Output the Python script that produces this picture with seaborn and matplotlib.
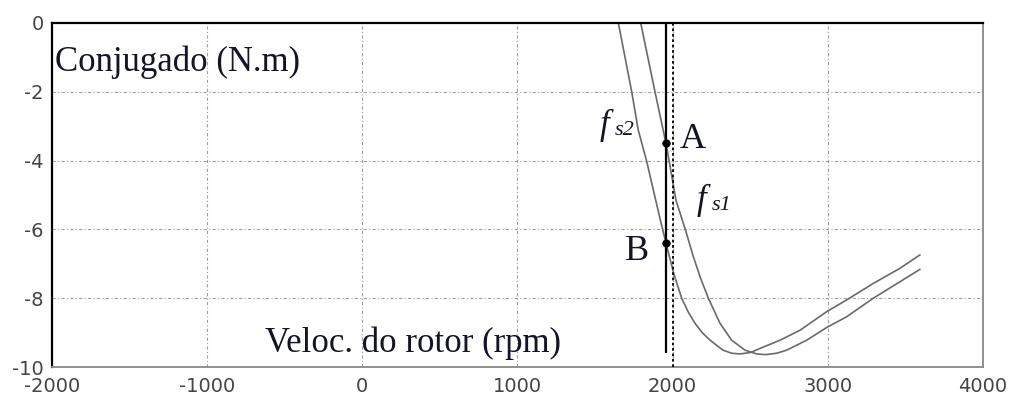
import numpy as np
import pandas as pd
import matplotlib.pyplot as plt
import seaborn as sns

# ---------------------------------------------------------
# Dados (rpm, N.m)
# ---------------------------------------------------------
rpm_fs2 = [1650, 1736, 1778, 1833, 1875, 1915, 1957, 2008, 2058, 2100, 2144, 2190, 2241,
           2324, 2380, 2434, 2500, 2563, 2692, 2821, 2993, 3121, 3293, 3465, 3594]
torque_fs2 = [0.0, -2.0, -3.11, -4.03, -4.85, -5.62, -6.40, -7.30, -8.0, -8.40, -8.73,
              -9.0, -9.22, -9.51, -9.60, -9.62, -9.58, -9.46, -9.22, -8.93, -8.39, -8.05,
              -7.57, -7.13, -6.74]

rpm_fs1 = [1794, 1886, 1957, 1978, 2021, 2086, 2133, 2180, 2230, 2305, 2380, 2466,
           2542, 2600, 2670, 2735, 2864, 2993, 3121, 3293, 3465, 3594]
torque_fs1 = [0.0, -2.0, -3.50, -4.03, -5.15, -6.07, -6.79, -7.42, -8.0, -8.73, -9.22,
              -9.51, -9.62, -9.64, -9.60, -9.51, -9.22, -8.85, -8.54, -8.0, -7.52, -7.16]

rpm_op = 1957          # linha vertical (velocidade de operação)
torque_op_min = -9.6
rpm_sinc = 2000        # linha pontilhada

pontos_nome = ['A', 'B']
pontos_rpm = [1957, 1957]
pontos_torque = [-3.5, -6.4]

xticks = [-2000, -1000, 0, 1000, 2000, 3000, 4000]
yticks = [0, -2, -4, -6, -8, -10]

df = pd.concat([
    pd.DataFrame({'rpm': rpm_fs2, 'torque': torque_fs2, 'curva': 'fs2'}),
    pd.DataFrame({'rpm': rpm_fs1, 'torque': torque_fs1, 'curva': 'fs1'}),
])
df_pts = pd.DataFrame({'rpm': pontos_rpm, 'torque': pontos_torque, 'nome': pontos_nome})

# ---------------------------------------------------------
# Estilo
# ---------------------------------------------------------
sns.set_style('white')
plt.rcParams['font.family'] = ['DejaVu Sans']
plt.rcParams['axes.unicode_minus'] = False

fig = plt.figure(figsize=(10.15, 3.96), dpi=100)
ax = fig.add_axes([0.0512, 0.0732, 0.9173, 0.8688])

# grade traço-ponto
for x in xticks[1:-1]:
    ax.axvline(x, color='#a0a0a0', lw=0.8, ls=(0, (3, 2, 1, 2)), zorder=0)
for y in yticks[1:-1]:
    ax.axhline(y, color='#a0a0a0', lw=0.8, ls=(0, (3, 2, 1, 2)), zorder=0)

sns.lineplot(data=df, x='rpm', y='torque', units='curva', estimator=None,
             sort=False, color='#6a6a6a', lw=1.2, ax=ax, legend=False)

ax.vlines(rpm_op, torque_op_min, 0, color='black', lw=1.6, zorder=3)
ax.axvline(rpm_sinc, color='black', lw=1.3, ls=(0, (1.5, 1.5)), zorder=3)

sns.scatterplot(data=df_pts, x='rpm', y='torque', color='black', s=30,
                edgecolor='black', zorder=4, ax=ax, legend=False)

# ---------------------------------------------------------
# Textos
# ---------------------------------------------------------
serif = ['Liberation Serif', 'DejaVu Serif']
cor_txt = '#141428'
ax.text(-1981, -1.4, 'Conjugado (N.m)', family=serif, fontsize=25, color=cor_txt,
        ha='left', va='baseline')
ax.text(-627, -9.56, 'Veloc. do rotor (rpm)', family=serif, fontsize=25, color=cor_txt,
        ha='left', va='baseline')

# f_s2 e f_s1 (itálico, subscrito)
ax.text(1532, -3.23, 'f', family=serif, style='italic', fontsize=25, color=cor_txt,
        ha='left', va='baseline')
ax.text(1625, -3.27, 's2', family=serif, style='italic', fontsize=16, color=cor_txt,
        ha='left', va='baseline')
ax.text(2157, -5.41, 'f', family=serif, style='italic', fontsize=25, color=cor_txt,
        ha='left', va='baseline')
ax.text(2250, -5.45, 's1', family=serif, style='italic', fontsize=16, color=cor_txt,
        ha='left', va='baseline')

ax.text(2047, -3.63, 'A', family=serif, fontsize=26, color=cor_txt, ha='left', va='baseline')
ax.text(1693, -6.89, 'B', family=serif, fontsize=26, color=cor_txt, ha='left', va='baseline')

# ---------------------------------------------------------
# Eixos
# ---------------------------------------------------------
ax.set_xlim(-2000, 4000)
ax.set_ylim(-10, 0)
ax.set_xticks(xticks)
ax.set_yticks(yticks)
ax.set_xlabel('')
ax.set_ylabel('')
ax.tick_params(direction='in', length=5, width=1, labelsize=14,
               labelcolor='#444444', color='#555555')
ax.tick_params(axis='x', pad=7)
ax.tick_params(axis='y', pad=6)

for s in ['top', 'left']:
    ax.spines[s].set_color('black')
    ax.spines[s].set_linewidth(1.6)
for s in ['bottom', 'right']:
    ax.spines[s].set_color('#888888')
    ax.spines[s].set_linewidth(1.3)

fig.savefig('out.png', dpi=100)
